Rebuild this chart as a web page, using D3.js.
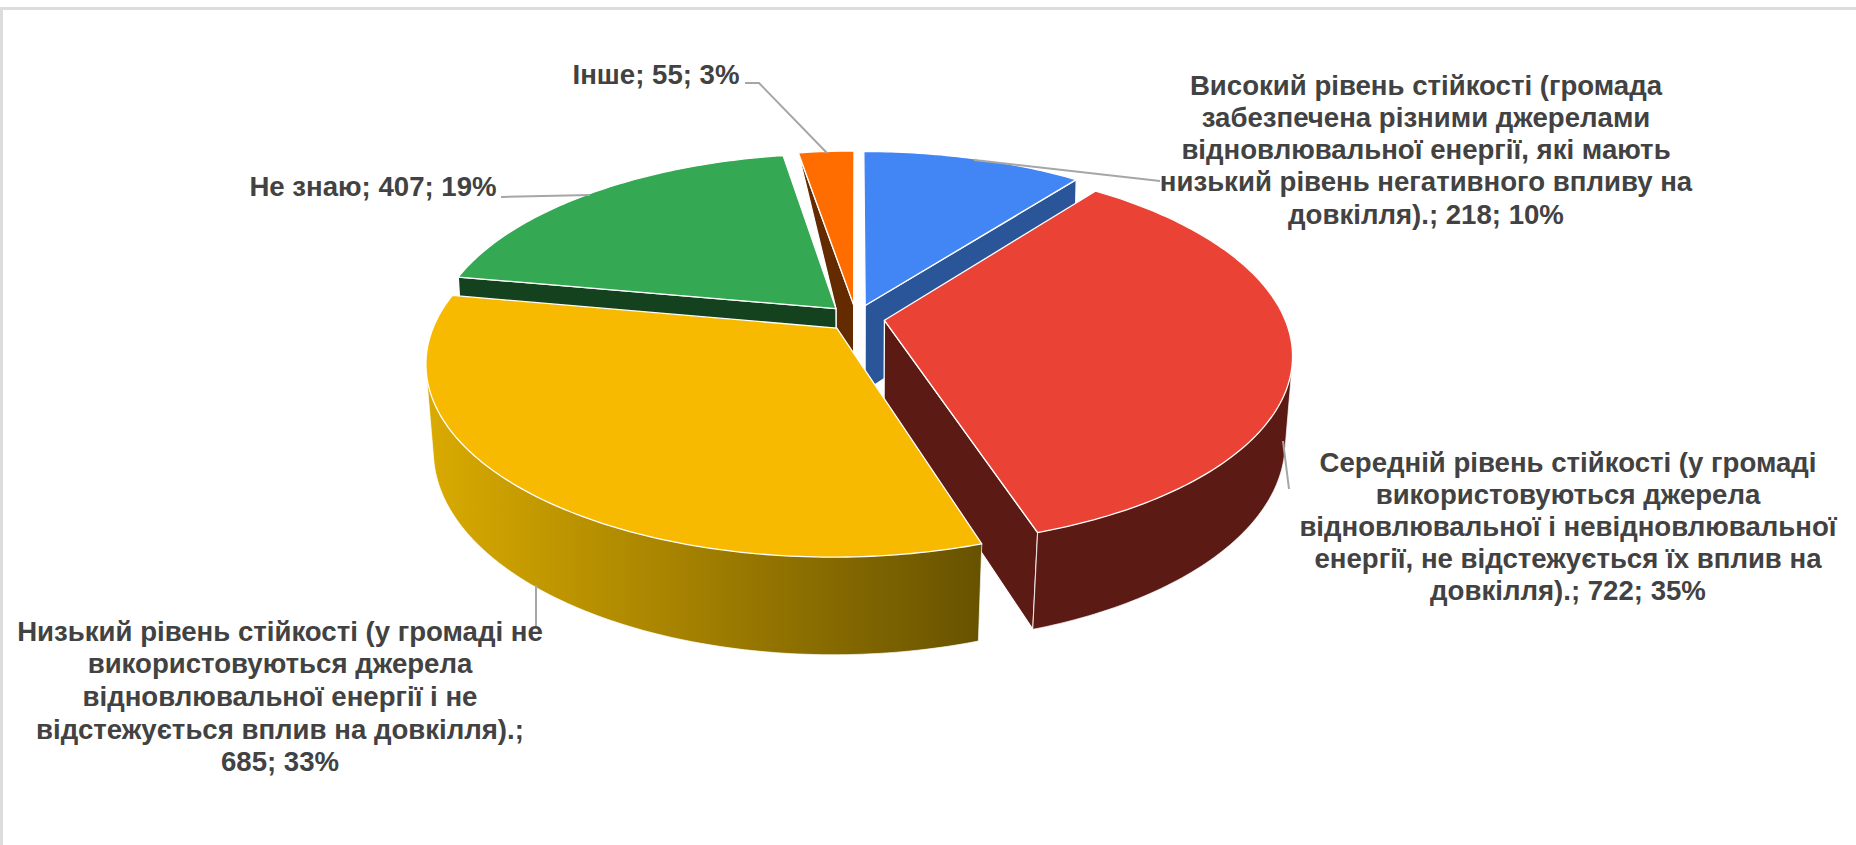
<!DOCTYPE html>
<html lang="uk">
<head>
<meta charset="utf-8">
<title>Рівень стійкості громади</title>
<script src="https://cdn.jsdelivr.net/npm/d3@7/dist/d3.min.js"></script>
<style>
  html, body { margin: 0; padding: 0; background: #fff; }
  svg { display: block; }
  text { font-family: "Liberation Sans", Arial, sans-serif; font-weight: 700; fill: #424242; }
</style>
</head>
<body>
<svg id="chart" width="1856" height="845"></svg>
<script>
// Survey answers, in slice order clockwise from twelve o'clock.
const categories = [
  "Високий рівень стійкості",
  "Середній рівень стійкості",
  "Низький рівень стійкості",
  "Не знаю",
  "Інше"
];
const values = [218, 722, 685, 407, 55];
const shares = ["10%", "35%", "33%", "19%", "3%"];
const labelLines = [
  ["Високий рівень стійкості (громада", "забезпечена різними  джерелами", "відновлювальної енергії, які мають", "низький рівень негативного впливу на", "довкілля).; 218; 10%"],
  ["Середній рівень стійкості (у громаді", "використовуються джерела", "відновлювальної і невідновлювальної", "енергії, не відстежується їх вплив на", "довкілля).; 722; 35%"],
  ["Низький рівень стійкості (у громаді не", "використовуються джерела", "відновлювальної енергії і не", "відстежується вплив на довкілля).;", "685; 33%"],
  ["Не знаю; 407; 19%"],
  ["Інше; 55; 3%"]
];
const topColors = ["#4285f4", "#ea4335", "#f7ba00", "#34a853", "#ff6d01"];
const wallColors = ["#2a5699", "#5c1a14", "url(#yellowWall)", "#14421f", "#642b00"];

// Camera model of the tilted disc: the base sits a little further from the viewer.
const cx = 856, cy = 318;
const radiusX = 400, radiusY = 185;
const topPerspective = 0.175, basePerspective = 0.167, baseShrink = 0.015, thickness = 87.5;
const explode = 0.072;

const svg = d3.select("#chart");

// Frame lines along the top and left edges.
svg.append("rect").attr("x", 0).attr("y", 7).attr("width", 1856).attr("height", 3).attr("fill", "#dcdcdc");
svg.append("rect").attr("x", 0).attr("y", 7).attr("width", 3).attr("height", 838).attr("fill", "#dcdcdc");

const defs = svg.append("defs");
const grad = defs.append("linearGradient").attr("id", "yellowWall")
  .attr("gradientUnits", "userSpaceOnUse")
  .attr("x1", 430).attr("x2", 982).attr("y1", 0).attr("y2", 0);
grad.append("stop").attr("offset", 0).attr("stop-color", "#d9aa00");
grad.append("stop").attr("offset", 1).attr("stop-color", "#675200");

const arcs = d3.pie().sort(null).value(d => d)(values);

// Project a point of the disc; level 0 is the top face, level 1 the base.
function project(theta, r, mid, level) {
  const u = r * Math.sin(theta) + explode * Math.sin(mid);
  const v = -r * Math.cos(theta) - explode * Math.cos(mid);
  const w = level ? 1 - basePerspective * v + baseShrink : 1 - topPerspective * v;
  return [cx + radiusX * u / w, cy + (radiusY * v + level * thickness) / w];
}

const line = d3.line();
const closed = pts => line(pts) + "Z";

function arcPoints(d, level) {
  const mid = (d.startAngle + d.endAngle) / 2;
  const n = Math.max(4, Math.ceil((d.endAngle - d.startAngle) * 60));
  return d3.range(n + 1)
    .map(i => d.startAngle + (d.endAngle - d.startAngle) * i / n)
    .map(a => project(a, 1, mid, level));
}

const apex = (d, level) => project(0, 0, (d.startAngle + d.endAngle) / 2, level);
const midOf = d => (d.startAngle + d.endAngle) / 2;

const edgeStyle = sel => sel.attr("stroke", "#fff").attr("stroke-width", 1.3).attr("stroke-linejoin", "round");

// The rim of a slice is the convex hull of its top and base arcs.
function drawOuterWall(i) {
  const d = arcs[i];
  svg.append("path").attr("d", closed(d3.polygonHull(arcPoints(d, 0).concat(arcPoints(d, 1)))))
    .attr("fill", wallColors[i]).call(edgeStyle).attr("stroke-width", 0.7);
}
function drawRadialWall(i, angle) {
  const d = arcs[i], m = midOf(d);
  svg.append("path").attr("d", closed([apex(d, 0), project(angle, 1, m, 0), project(angle, 1, m, 1), apex(d, 1)]))
    .attr("fill", wallColors[i]).call(edgeStyle);
}
function drawTop(i) {
  const d = arcs[i];
  svg.append("path").attr("d", closed([apex(d, 0)].concat(arcPoints(d, 0))))
    .attr("fill", topColors[i]).call(edgeStyle);
}

// Smallest slice: its cut face tapers into the neighbouring slice's apex.
{
  const d = arcs[4], m = midOf(d);
  svg.append("path")
    .attr("d", closed([project(d.startAngle, 1, m, 0), apex(d, 0), apex(d, 1), apex(arcs[3], 1), apex(arcs[3], 0)]))
    .attr("fill", wallColors[4]).call(edgeStyle);
}

// Painter's order, back to front.
drawRadialWall(0, arcs[0].endAngle);
drawTop(0);
drawTop(4);
drawRadialWall(3, arcs[3].startAngle);
drawTop(3);
drawRadialWall(1, arcs[1].endAngle);
drawOuterWall(1);
drawTop(1);
drawOuterWall(2);
drawTop(2);

// Leader lines between labels and slices.
const leaders = [
  [[974, 160], [1160, 181]],
  [[1283, 441], [1289, 489]],
  [[536, 585], [536, 626]],
  [[501, 197], [590, 195]],
  [[745, 83], [759, 83], [827, 153]]
];
svg.append("g").selectAll("path").data(leaders).join("path")
  .attr("d", d => line(d)).attr("fill", "none").attr("stroke", "#a6a6a6").attr("stroke-width", 2);

// Label blocks: centre x and the baseline of each line.
const labelBox = [
  { x: 1426, y: [95, 127, 159, 191, 224] },
  { x: 1568, y: [472, 504, 536, 568, 600] },
  { x: 280, y: [641, 673, 706, 739, 771] },
  { x: 373, y: [196] },
  { x: 656, y: [84] }
];
const fontSize = 27.6;
labelLines.forEach((lines, i) => {
  svg.append("g").selectAll("text").data(lines).join("text")
    .attr("x", labelBox[i].x)
    .attr("y", (d, j) => labelBox[i].y[j])
    .attr("text-anchor", "middle")
    .attr("font-size", fontSize)
    .text(d => d);
});
</script>
</body>
</html>
